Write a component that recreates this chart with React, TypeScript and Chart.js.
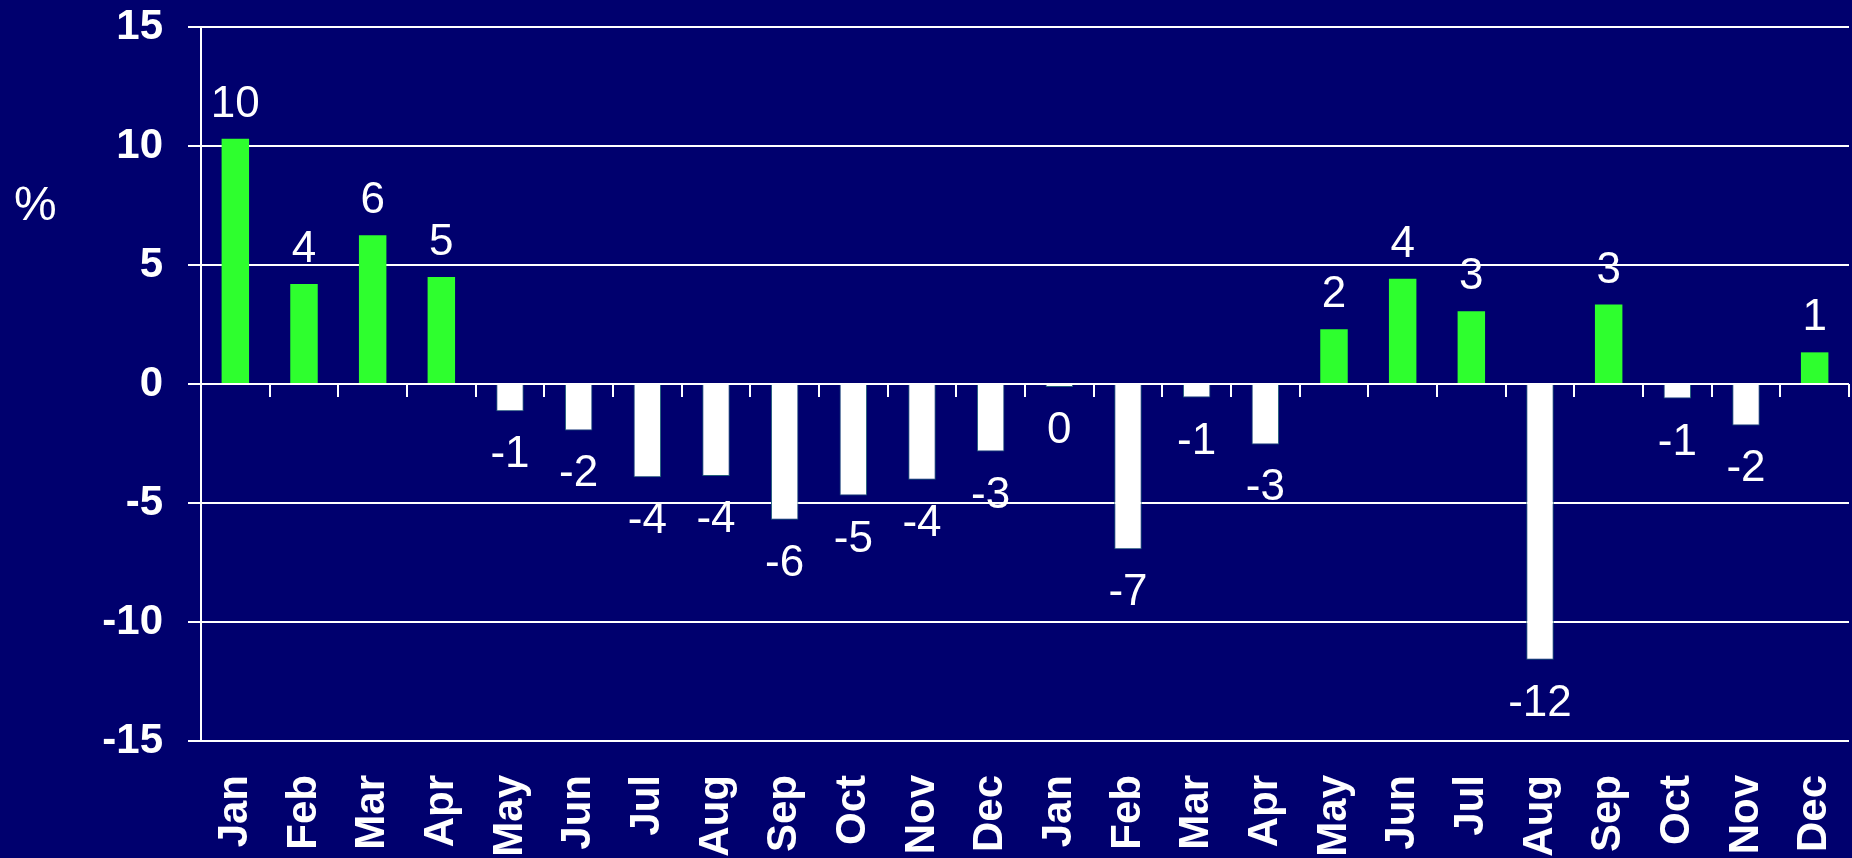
import React, { useEffect, useRef } from "react";
import { Chart, registerables } from "chart.js";

Chart.register(...registerables);

const months = ["Jan", "Feb", "Mar", "Apr", "May", "Jun", "Jul", "Aug", "Sep", "Oct", "Nov", "Dec",
  "Jan", "Feb", "Mar", "Apr", "May", "Jun", "Jul", "Aug", "Sep", "Oct", "Nov", "Dec"];
const changeValues = [10.3, 4.2, 6.25, 4.5, -1.15, -1.95, -3.92, -3.87, -5.7, -4.69, -4.02, -2.84,
  -0.13, -6.94, -0.57, -2.54, 2.3, 4.42, 3.06, -11.59, 3.34, -0.61, -1.74, 1.33];
const valueLabels = ["10", "4", "6", "5", "-1", "-2", "-4", "-4", "-6", "-5", "-4", "-3",
  "0", "-7", "-1", "-3", "2", "4", "3", "-12", "3", "-1", "-2", "1"];
const yTicks = [-15, -10, -5, 0, 5, 10, 15];

const BG = "#00006E";
const GREEN = "#2EFF2E";
const FONT = "'Liberation Sans', Arial, sans-serif";

const decorPlugin = {
  id: "decor",
  beforeDraw(chart: any) {
    const { ctx, width, height } = chart;
    ctx.save();
    ctx.fillStyle = BG;
    ctx.fillRect(0, 0, width, height);
    ctx.restore();
  },
  afterDraw(chart: any) {
    const { ctx } = chart;
    const x = chart.scales.x;
    const y = chart.scales.y;
    const zero = y.getPixelForValue(0);
    ctx.save();
    // tick marks on the zero line
    ctx.strokeStyle = "#FFFFFF";
    ctx.lineWidth = 2;
    for (let i = 0; i <= months.length; i++) {
      const px = Math.round(x.getPixelForValue(i - 0.5));
      ctx.beginPath();
      ctx.moveTo(px, zero);
      ctx.lineTo(px, zero + 13);
      ctx.stroke();
    }
    // % unit label
    ctx.fillStyle = "#FFFFFF";
    ctx.font = `48px ${FONT}`;
    ctx.textAlign = "left";
    ctx.textBaseline = "alphabetic";
    ctx.fillText("%", 14, 220);
    // value labels
    ctx.font = `44px ${FONT}`;
    ctx.textAlign = "center";
    const meta = chart.getDatasetMeta(0);
    meta.data.forEach((bar: any, i: number) => {
      const v = changeValues[i];
      const label = valueLabels[i];
      if (v >= 0) {
        ctx.fillText(label, bar.x, bar.y - 22);
      } else {
        ctx.fillText(label, bar.x, bar.y + 56);
      }
    });
    ctx.restore();
  },
};

export default function App() {
  const ref = useRef<HTMLCanvasElement | null>(null);

  useEffect(() => {
    document.body.style.margin = "0";
    document.body.style.background = BG;
    const canvas = ref.current;
    if (!canvas) return;
    const chart = new Chart(canvas, {
      type: "bar",
      data: {
        labels: months,
        datasets: [
          {
            data: changeValues,
            backgroundColor: changeValues.map((v) => (v >= 0 ? GREEN : "#FFFFFF")),
            borderColor: changeValues.map((v) => (v >= 0 ? GREEN : "#1F5F7A")),
            borderWidth: changeValues.map((v) => (v >= 0 ? 0 : 1)),
            barPercentage: 0.4,
            categoryPercentage: 1,
          },
        ],
      },
      options: {
        animation: false,
        responsive: false,
        maintainAspectRatio: false,
        events: [],
        layout: { padding: { top: 27, right: 3, bottom: 0, left: 0 } },
        plugins: {
          legend: { display: false },
          tooltip: { enabled: false },
          title: { display: false },
        },
        scales: {
          x: {
            type: "category",
            offset: true,
            grid: { display: false },
            border: { display: false },
            ticks: {
              color: "#FFFFFF",
              font: { family: FONT, size: 42, weight: "bold" },
              minRotation: 90,
              maxRotation: 90,
              autoSkip: false,
              padding: 26,
            },
            afterFit: (scale: any) => {
              scale.height = 117;
              scale.paddingLeft = 0;
              scale.paddingRight = 0;
            },
          },
          y: {
            min: -15,
            max: 15,
            afterBuildTicks: (scale: any) => {
              scale.ticks = yTicks.map((v) => ({ value: v }));
            },
            grid: {
              color: "#FFFFFF",
              lineWidth: 2,
              drawTicks: true,
              tickLength: 13,
            },
            border: { display: true, color: "#FFFFFF", width: 2 },
            ticks: {
              color: "#FFFFFF",
              font: { family: FONT, size: 42, weight: "bold" },
              padding: 25,
            },
            afterFit: (scale: any) => {
              scale.width = 201;
              scale.paddingTop = 0;
              scale.paddingBottom = 0;
            },
          },
        },
      },
      plugins: [decorPlugin],
    });
    return () => chart.destroy();
  }, []);

  return (
    <div style={{ position: "fixed", left: 0, top: 0, width: 1852, height: 858, background: BG, overflow: "hidden" }}>
      <canvas ref={ref} width={1852} height={858} style={{ display: "block", width: 1852, height: 858 }} />
    </div>
  );
}
